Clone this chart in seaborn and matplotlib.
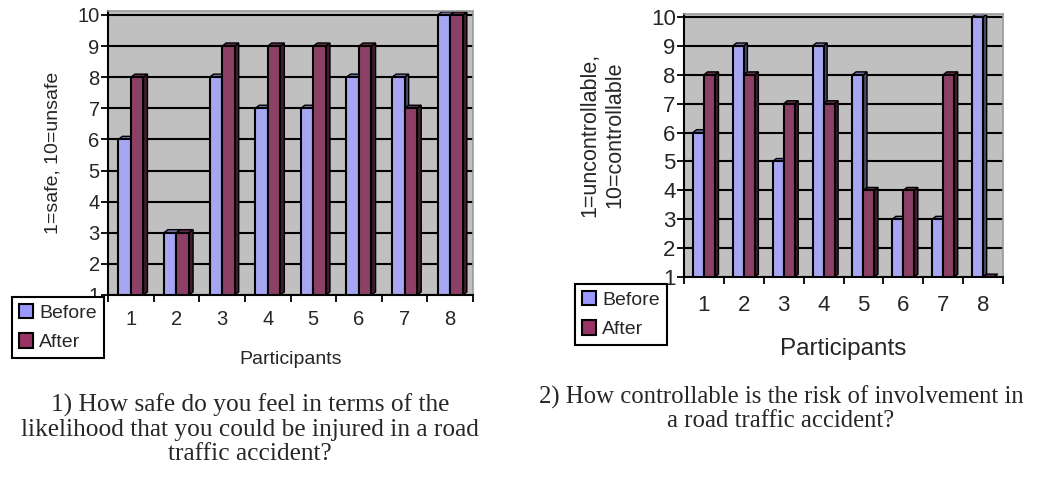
import matplotlib
matplotlib.use("Agg")
import matplotlib.pyplot as plt
import matplotlib.colors as mcolors
from matplotlib.patches import Patch, Polygon
import numpy as np
import pandas as pd
import seaborn as sns

# Survey scores per participant, before and after
participants = ["1", "2", "3", "4", "5", "6", "7", "8"]
safety_before = [6, 3, 8, 7, 7, 8, 8, 10]
safety_after = [8, 3, 9, 9, 9, 9, 7, 10]
control_before = [6, 9, 5, 9, 8, 3, 3, 10]
control_after = [8, 8, 7, 7, 4, 4, 8, 1]
phases = ["Before", "After"]
y_ticks = [1, 2, 3, 4, 5, 6, 7, 8, 9, 10]

safety_caption = ("1) How safe do you feel in terms of the\n"
                  "likelihood that you could be injured in a road\n"
                  "traffic accident?")
control_caption = ("2) How controllable is the risk of involvement in\n"
                   "a road traffic accident?")

colors = {"Before": "#9999FF", "After": "#993366"}
WALL = "#C0C0C0"
Y_TOP = 10.12

sns.set_theme(style="white")
plt.rcParams["font.family"] = ["Liberation Sans", "DejaVu Sans"]


def long_frame(before, after):
    return pd.DataFrame({
        "Participant": participants * 2,
        "Score": before + after,
        "Phase": ["Before"] * len(before) + ["After"] * len(after),
    })


def add_depth(ax, dx, dy, ymin):
    """Give each bar a shaded top and side face for a 3-D column look."""
    for p in list(ax.patches):
        x0, w, h = p.get_x(), p.get_width(), p.get_height()
        if w == 0:
            continue
        base = max(p.get_y(), ymin)
        top = p.get_y() + h
        rgb = np.array(mcolors.to_rgb(p.get_facecolor()))
        top_face = Polygon([(x0, top), (x0 + w, top), (x0 + w + dx, top + dy), (x0 + dx, top + dy)],
                           closed=True, facecolor=rgb * 0.7, edgecolor="black", lw=1.0, zorder=0.9)
        side_face = Polygon([(x0 + w, base), (x0 + w, top), (x0 + w + dx, top + dy), (x0 + w + dx, base + dy)],
                            closed=True, facecolor=rgb * 0.45, edgecolor="black", lw=1.0, zorder=0.9)
        ax.add_patch(side_face)
        ax.add_patch(top_face)


def draw_panel(ax, before, after, ylabel, tick_fs, label_fs, ylabel_fs, xtick_pad, xlabel_pad):
    df = long_frame(before, after)
    sns.barplot(data=df, x="Participant", y="Score", hue="Phase", hue_order=phases,
                palette=colors, width=0.55, edgecolor="black", linewidth=1.5,
                legend=False, ax=ax, zorder=2)
    ax.set_ylim(1, Y_TOP)
    ax.set_xlim(-0.5, len(participants) - 0.5)
    add_depth(ax, dx=0.09, dy=0.1, ymin=1)
    ax.set_facecolor(WALL)
    ax.set_axisbelow(True)
    ax.set_yticks(y_ticks)
    ax.yaxis.grid(True, color="black", lw=1.5)
    ax.xaxis.grid(False)
    for s in ("left", "bottom"):
        ax.spines[s].set_color("black")
        ax.spines[s].set_linewidth(1.5)
    for s in ("top", "right"):
        ax.spines[s].set_color("#9a9a9a")
        ax.spines[s].set_linewidth(1.2)
    ax.tick_params(axis="y", direction="out", length=5, width=1.3, color="black",
                   labelsize=tick_fs, pad=1, left=True)
    ax.set_xticks(np.arange(-0.5, len(participants), 1.0), minor=True)
    ax.tick_params(axis="x", which="minor", direction="out", length=5, width=1.3,
                   color="black", bottom=True)
    ax.tick_params(axis="x", which="major", length=0, labelsize=tick_fs, pad=xtick_pad)
    ax.set_xlabel("Participants", fontsize=label_fs, labelpad=xlabel_pad)
    ax.set_ylabel(ylabel, fontsize=ylabel_fs)


W, H = 1044, 478
fig = plt.figure(figsize=(W / 100, H / 100), dpi=100)

# value 1 sits at the bottom edge, value 10 a little below the top edge
px1 = (295 - 15) / 9.0
top1 = 15 - (Y_TOP - 10) * px1
ax1 = fig.add_axes([108 / W, 1 - 295 / H, 365 / W, (295 - top1) / H])
px2 = (277 - 17) / 9.0
top2 = 17 - (Y_TOP - 10) * px2
ax2 = fig.add_axes([684 / W, 1 - 277 / H, 319 / W, (277 - top2) / H])

draw_panel(ax1, safety_before, safety_after, "1=safe, 10=unsafe",
           tick_fs=14.5, label_fs=14, ylabel_fs=14, xtick_pad=11, xlabel_pad=16)
ax1.yaxis.set_label_coords(-0.128, 0.5)

draw_panel(ax2, control_before, control_after, "1=uncontrollable,\n10=controllable",
           tick_fs=16, label_fs=17.5, ylabel_fs=15.5, xtick_pad=13, xlabel_pad=16)
ax2.yaxis.set_label_coords(-0.185, 0.54)


def legend_for(x_px, y_px, fs):
    handles = [Patch(facecolor=colors[p], edgecolor="black", lw=1.5, label=p) for p in phases]
    leg = fig.legend(handles=handles, loc="upper left",
                     bbox_to_anchor=(x_px / W, 1 - y_px / H), bbox_transform=fig.transFigure,
                     fontsize=fs, frameon=True, fancybox=False, framealpha=1,
                     edgecolor="black", borderaxespad=0, handlelength=0.75, handleheight=0.75,
                     handletextpad=0.3, borderpad=0.35, labelspacing=0.6)
    leg.get_frame().set_linewidth(1.5)
    leg.set_zorder(10)
    return leg


legend_for(12, 297, 14)
legend_for(575, 284, 14)

fig.text(250 / W, 1 - 394 / H, safety_caption, ha="center", va="top", multialignment="center",
         fontsize=18.3, family=["Liberation Serif", "DejaVu Serif"], linespacing=1.12)
fig.text(781 / W, 1 - 386 / H, control_caption, ha="center", va="top", multialignment="center",
         fontsize=17.8, family=["Liberation Serif", "DejaVu Serif"], linespacing=1.05)

fig.savefig("out.png", dpi=100, facecolor="white")
